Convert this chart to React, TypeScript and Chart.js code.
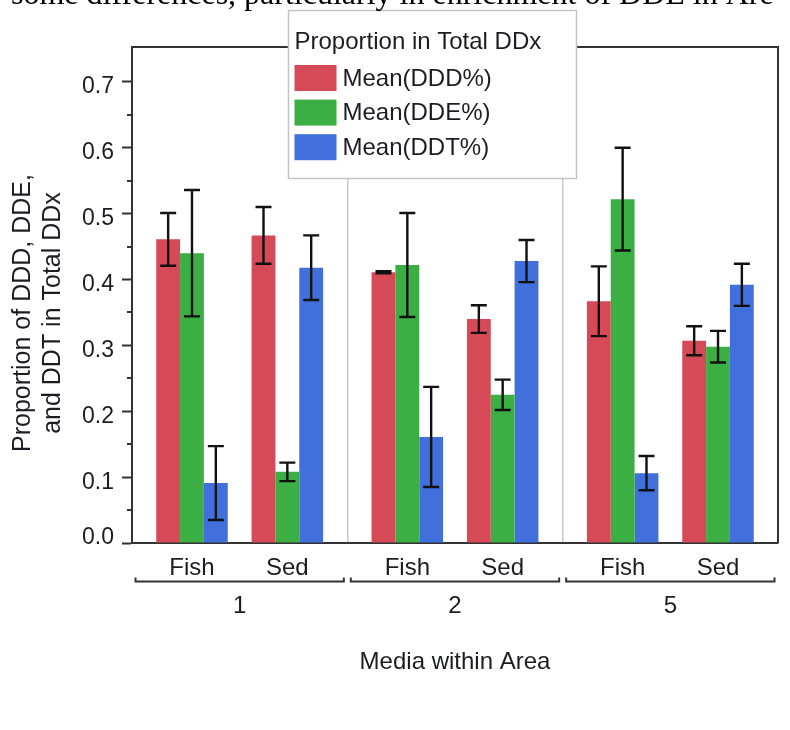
import React, { useEffect, useRef } from 'react';
import { Chart, registerables } from 'chart.js';

Chart.register(...registerables);

// ---- data ----
const areas = ['1', '2', '5'];
const media = ['Fish', 'Sed'];
const seriesNames = ['Mean(DDD%)', 'Mean(DDE%)', 'Mean(DDT%)'];
const seriesColors = ['#D64A58', '#3BAF44', '#4170DD'];
// order: area1 Fish, area1 Sed, area2 Fish, area2 Sed, area5 Fish, area5 Sed
const dddMean = [0.461, 0.467, 0.411, 0.340, 0.367, 0.307];
const ddeMean = [0.440, 0.108, 0.422, 0.225, 0.522, 0.298];
const ddtMean = [0.091, 0.418, 0.161, 0.428, 0.106, 0.392];
const dddErr = [0.040, 0.043, 0.0015, 0.021, 0.053, 0.022];
const ddeErr = [0.096, 0.014, 0.079, 0.023, 0.078, 0.024];
const ddtErr = [0.056, 0.049, 0.076, 0.032, 0.026, 0.032];
const yMax = 0.753;
const yStep = 0.1;
const yMinorStep = 0.05;
const xTitle = 'Media within Area';
const yTitleLines = ['Proportion of DDD, DDE,', 'and DDT in Total DDx'];
const legendTitle = 'Proportion in Total DDx';
const topText = 'some differences, particularly in enrichment of DDE in Are';

const FONT = '"Liberation Sans", Arial, sans-serif';
const TEXT = '#1c1c24';
const AXIS = '#333333';

const means = [dddMean, ddeMean, ddtMean];
const errs = [dddErr, ddeErr, ddtErr];

function buildDatasets() {
  const ds: any[] = [];
  media.forEach((m, mi) => {
    if (mi > 0) {
      ds.push({ label: '', spacer: true, data: areas.map(() => null), backgroundColor: 'rgba(0,0,0,0)' });
    }
    means.forEach((arr, si) => {
      ds.push({
        label: seriesNames[si],
        media: m,
        mediaIndex: mi,
        seriesIndex: si,
        data: areas.map((_, ai) => arr[ai * 2 + mi]),
        errors: areas.map((_, ai) => errs[si][ai * 2 + mi]),
        backgroundColor: seriesColors[si],
      });
    });
  });
  return ds;
}

const customPlugin = {
  id: 'customDecor',
  afterDatasetsDraw(chart: any) {
    const ctx = chart.ctx;
    const y = chart.scales.y;
    ctx.save();
    ctx.strokeStyle = '#111';
    ctx.lineWidth = 2.4;
    chart.data.datasets.forEach((ds: any, di: number) => {
      if (ds.spacer) return;
      const meta = chart.getDatasetMeta(di);
      meta.data.forEach((el: any, i: number) => {
        const v = ds.data[i];
        const e = ds.errors[i];
        if (v == null) return;
        const yt = y.getPixelForValue(v + e);
        const yb = y.getPixelForValue(v - e);
        const x = el.x;
        const cap = 8;
        ctx.beginPath();
        ctx.moveTo(x, yt);
        ctx.lineTo(x, yb);
        ctx.moveTo(x - cap, yt);
        ctx.lineTo(x + cap, yt);
        ctx.moveTo(x - cap, yb);
        ctx.lineTo(x + cap, yb);
        ctx.stroke();
      });
    });
    ctx.restore();
  },
  afterDraw(chart: any) {
    const ctx = chart.ctx;
    const area = chart.chartArea;
    const ys = chart.scales.y;
    const xs = chart.scales.x;
    ctx.save();

    // frame top and right
    ctx.strokeStyle = AXIS;
    ctx.lineWidth = 2;
    ctx.beginPath();
    ctx.moveTo(area.left, area.top);
    ctx.lineTo(area.right, area.top);
    ctx.lineTo(area.right, area.bottom);
    ctx.stroke();

    // minor ticks
    ctx.lineWidth = 2;
    ctx.beginPath();
    for (let v = yMinorStep; v < yMax - 0.01; v += yStep) {
      const py = Math.round(ys.getPixelForValue(v));
      ctx.moveTo(area.left - 5, py);
      ctx.lineTo(area.left, py);
    }
    ctx.stroke();

    // y tick labels
    ctx.fillStyle = TEXT;
    ctx.font = `23px ${FONT}`;
    ctx.textAlign = 'right';
    ctx.textBaseline = 'alphabetic';
    ys.ticks.forEach((t: any) => {
      const py = ys.getPixelForValue(t.value);
      const base = Math.min(py + 11.5, area.bottom + 0.5);
      ctx.fillText(Number(t.value).toFixed(1), area.left - 18, base);
    });

    // x labels: media under each group
    ctx.font = `24px ${FONT}`;
    ctx.textAlign = 'center';
    chart.data.datasets.forEach((ds: any, di: number) => {
      if (ds.spacer || ds.seriesIndex !== 1) return;
      const meta = chart.getDatasetMeta(di);
      meta.data.forEach((el: any) => {
        ctx.fillText(ds.media, el.x, area.bottom + 32);
      });
    });

    // brackets + area labels
    const n = areas.length;
    const w = (area.right - area.left) / n;
    ctx.strokeStyle = AXIS;
    ctx.lineWidth = 2;
    areas.forEach((a, ai) => {
      const cx = xs.getPixelForValue(ai);
      const l = cx - w / 2 + 3.5;
      const r = cx + w / 2 - 3.5;
      const by = area.bottom + 38.5;
      ctx.beginPath();
      ctx.moveTo(l, by - 4);
      ctx.lineTo(l, by);
      ctx.lineTo(r, by);
      ctx.lineTo(r, by - 4);
      ctx.stroke();
      ctx.fillText(a, cx, area.bottom + 69.5);
    });

    // x title
    ctx.fillText(xTitle, (area.left + area.right) / 2, area.bottom + 126);

    // y title
    ctx.font = `25px ${FONT}`;
    ctx.textBaseline = 'middle';
    const yc = 313;
    [23.5, 53].forEach((lx, i) => {
      ctx.save();
      ctx.translate(lx, yc);
      ctx.rotate(-Math.PI / 2);
      ctx.fillText(yTitleLines[i], 0, 0);
      ctx.restore();
    });

    // legend box
    const lb = { x: 288.5, y: 10.5, w: 288, h: 168 };
    ctx.fillStyle = '#ffffff';
    ctx.fillRect(lb.x, lb.y, lb.w, lb.h);
    ctx.strokeStyle = '#c4c4c4';
    ctx.lineWidth = 1.5;
    ctx.strokeRect(lb.x, lb.y, lb.w, lb.h);
    ctx.fillStyle = TEXT;
    ctx.font = `24px ${FONT}`;
    ctx.textAlign = 'left';
    ctx.textBaseline = 'middle';
    ctx.fillText(legendTitle, lb.x + 6, 42);
    seriesNames.forEach((s, i) => {
      const cy = 78 + i * 34.6;
      ctx.fillStyle = seriesColors[i];
      ctx.fillRect(lb.x + 6, cy - 13, 42, 26);
      ctx.fillStyle = TEXT;
      ctx.fillText(s, lb.x + 54, cy + 1);
    });

    // top cropped document text
    ctx.fillStyle = '#000';
    ctx.font = `32px "Liberation Serif", "Times New Roman", serif`;
    ctx.textAlign = 'left';
    ctx.textBaseline = 'alphabetic';
    ctx.fillText(topText, 11, 4);

    ctx.restore();
  },
};

export default function App() {
  const ref = useRef<HTMLCanvasElement>(null);
  useEffect(() => {
    const canvas = ref.current!;
    const chart = new Chart(canvas, {
      type: 'bar',
      data: { labels: areas, datasets: buildDatasets() },
      options: {
        responsive: false,
        animation: false,
        devicePixelRatio: 1,
        layout: { padding: { top: 47, right: 12, left: 0, bottom: 0 } },
        plugins: { legend: { display: false }, tooltip: { enabled: false } },
        datasets: { bar: { categoryPercentage: 0.775, barPercentage: 1.0, borderWidth: 0 } },
        scales: {
          x: {
            type: 'category',
            offset: true,
            grid: { display: true, offset: true, drawOnChartArea: true, drawTicks: false, color: '#c8c8c8', lineWidth: 1.5 },
            border: { display: true, color: AXIS, width: 2 },
            ticks: { display: false },
            afterFit: (s: any) => { s.height = 187; },
          },
          y: {
            min: 0,
            max: yMax,
            ticks: { display: false, stepSize: yStep, includeBounds: false },
            grid: { display: true, drawOnChartArea: false, drawTicks: true, tickLength: 10, color: AXIS, tickWidth: 2 },
            border: { display: true, color: AXIS, width: 2 },
            afterFit: (s: any) => { s.width = 132; },
          },
        },
      } as any,
      plugins: [customPlugin],
    });
    return () => chart.destroy();
  }, []);
  return (
    <div style={{ position: 'absolute', left: 0, top: 0, width: 790, height: 730, background: '#fff', overflow: 'hidden' }}>
      <canvas ref={ref} width={790} height={730} style={{ display: 'block', width: 790, height: 730 }} />
    </div>
  );
}
